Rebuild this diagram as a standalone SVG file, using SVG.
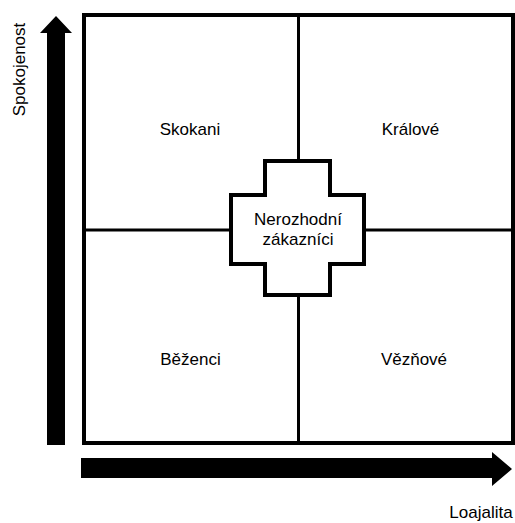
<svg xmlns="http://www.w3.org/2000/svg" width="515" height="523" viewBox="0 0 515 523">
<style>
text{font-family:"Liberation Sans",Arial,sans-serif;font-size:17px;fill:#000;text-anchor:middle}
.ln{stroke:#000;fill:none}
</style>
<rect width="515" height="523" fill="#fff"/>
<g id="axes">
<polygon id="axis-y" points="47,445 65,445 65,33 72,33 56,16 40,33 47,33" fill="#000"/>
<polygon id="axis-x" points="81,458 81,478 492,478 492,486 512,469 492,452 492,458" fill="#000"/>
<text transform="translate(24.5,69.5) rotate(-90)">Spokojenost</text>
<text x="481" y="518" font-size="16.5">Loajalita</text>
</g>
<g id="connectors">
<line class="ln" stroke-width="3" x1="298.5" y1="15" x2="298.5" y2="161"/>
<line class="ln" stroke-width="3" x1="298.5" y1="295" x2="298.5" y2="443"/>
<line class="ln" stroke-width="3" x1="84" y1="230" x2="231" y2="230"/>
<line class="ln" stroke-width="3" x1="364" y1="230" x2="513" y2="230"/>
</g>
<g id="frame">
<rect class="ln" stroke-width="4" x="84" y="15" width="429" height="428"/>
</g>
<g id="skokani"><text x="190" y="135">Skokani</text></g>
<g id="kralove"><text x="410.5" y="135">Králové</text></g>
<g id="bezenci"><text x="190.5" y="365">Běženci</text></g>
<g id="veznove"><text x="414" y="365">Vězňové</text></g>
<g id="nerozhodni">
<polygon points="265,161 330,161 330,195 364,195 364,264 330,264 330,295 265,295 265,264 231,264 231,195 265,195" fill="#fff" stroke="#000" stroke-width="4"/>
<text x="298" y="225">Nerozhodní</text>
<text x="298" y="245">zákazníci</text>
</g>
</svg>
